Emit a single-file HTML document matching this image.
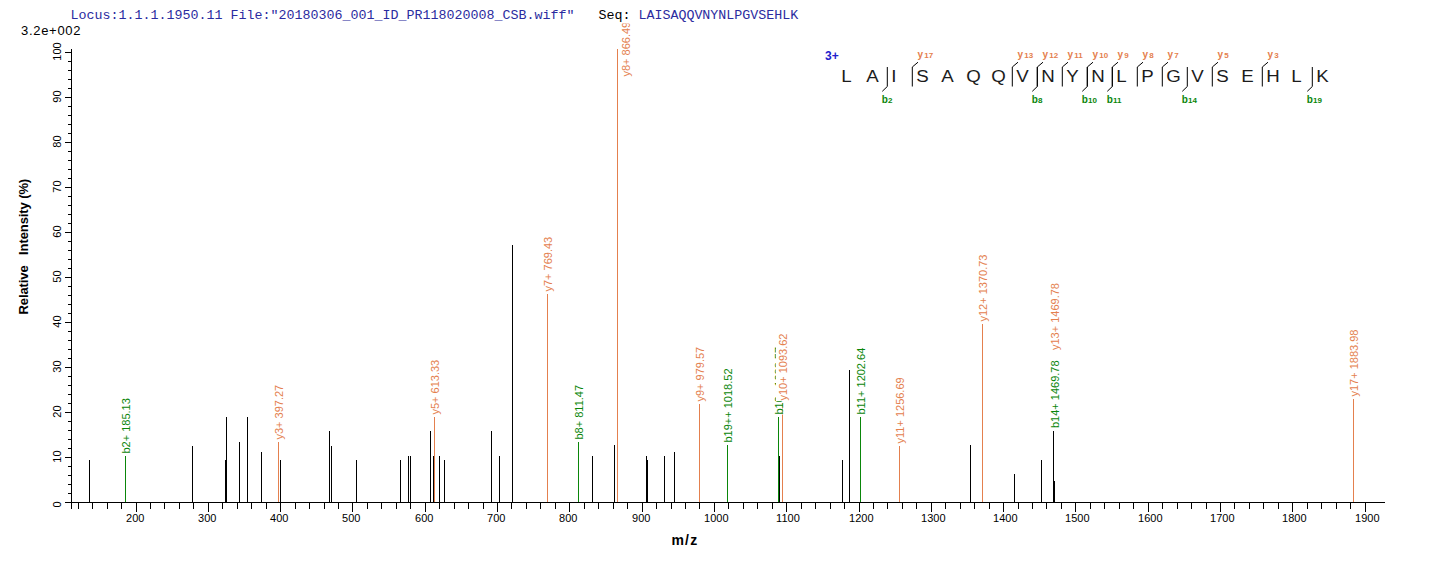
<!DOCTYPE html>
<html><head><meta charset="utf-8">
<style>
html,body{margin:0;padding:0;background:#fff;}
body{width:1436px;height:562px;overflow:hidden;}
svg{display:block;}
</style></head>
<body>
<svg width="1436" height="562" viewBox="0 0 1436 562">
<rect x="0" y="0" width="1436" height="562" fill="#fff"/>
<g stroke="#000" stroke-width="1" shape-rendering="crispEdges">
<line x1="71.5" y1="49" x2="71.5" y2="509"/>
<line x1="65" y1="502.5" x2="1385" y2="502.5"/>
<line x1="65" y1="502.5" x2="71" y2="502.5"/>
<line x1="68" y1="493.5" x2="71" y2="493.5"/>
<line x1="68" y1="484.5" x2="71" y2="484.5"/>
<line x1="68" y1="475.5" x2="71" y2="475.5"/>
<line x1="68" y1="466.5" x2="71" y2="466.5"/>
<line x1="65" y1="457.5" x2="71" y2="457.5"/>
<line x1="68" y1="448.5" x2="71" y2="448.5"/>
<line x1="68" y1="439.5" x2="71" y2="439.5"/>
<line x1="68" y1="430.5" x2="71" y2="430.5"/>
<line x1="68" y1="421.5" x2="71" y2="421.5"/>
<line x1="65" y1="412.5" x2="71" y2="412.5"/>
<line x1="68" y1="403.5" x2="71" y2="403.5"/>
<line x1="68" y1="394.5" x2="71" y2="394.5"/>
<line x1="68" y1="385.5" x2="71" y2="385.5"/>
<line x1="68" y1="376.5" x2="71" y2="376.5"/>
<line x1="65" y1="367.5" x2="71" y2="367.5"/>
<line x1="68" y1="358.5" x2="71" y2="358.5"/>
<line x1="68" y1="349.5" x2="71" y2="349.5"/>
<line x1="68" y1="340.5" x2="71" y2="340.5"/>
<line x1="68" y1="331.5" x2="71" y2="331.5"/>
<line x1="65" y1="322.5" x2="71" y2="322.5"/>
<line x1="68" y1="313.5" x2="71" y2="313.5"/>
<line x1="68" y1="304.5" x2="71" y2="304.5"/>
<line x1="68" y1="295.5" x2="71" y2="295.5"/>
<line x1="68" y1="286.5" x2="71" y2="286.5"/>
<line x1="65" y1="277.5" x2="71" y2="277.5"/>
<line x1="68" y1="268.5" x2="71" y2="268.5"/>
<line x1="68" y1="259.5" x2="71" y2="259.5"/>
<line x1="68" y1="250.5" x2="71" y2="250.5"/>
<line x1="68" y1="241.5" x2="71" y2="241.5"/>
<line x1="65" y1="232.5" x2="71" y2="232.5"/>
<line x1="68" y1="223.5" x2="71" y2="223.5"/>
<line x1="68" y1="214.5" x2="71" y2="214.5"/>
<line x1="68" y1="205.5" x2="71" y2="205.5"/>
<line x1="68" y1="196.5" x2="71" y2="196.5"/>
<line x1="65" y1="187.5" x2="71" y2="187.5"/>
<line x1="68" y1="178.5" x2="71" y2="178.5"/>
<line x1="68" y1="169.5" x2="71" y2="169.5"/>
<line x1="68" y1="160.5" x2="71" y2="160.5"/>
<line x1="68" y1="151.5" x2="71" y2="151.5"/>
<line x1="65" y1="142.5" x2="71" y2="142.5"/>
<line x1="68" y1="133.5" x2="71" y2="133.5"/>
<line x1="68" y1="124.5" x2="71" y2="124.5"/>
<line x1="68" y1="115.5" x2="71" y2="115.5"/>
<line x1="68" y1="106.5" x2="71" y2="106.5"/>
<line x1="65" y1="97.5" x2="71" y2="97.5"/>
<line x1="68" y1="88.5" x2="71" y2="88.5"/>
<line x1="68" y1="79.5" x2="71" y2="79.5"/>
<line x1="68" y1="70.5" x2="71" y2="70.5"/>
<line x1="68" y1="61.5" x2="71" y2="61.5"/>
<line x1="65" y1="52.5" x2="71" y2="52.5"/>
<line x1="78.5" y1="503" x2="78.5" y2="509"/>
<line x1="92.5" y1="503" x2="92.5" y2="509"/>
<line x1="107.5" y1="503" x2="107.5" y2="509"/>
<line x1="121.5" y1="503" x2="121.5" y2="509"/>
<line x1="136.5" y1="503" x2="136.5" y2="512"/>
<line x1="150.5" y1="503" x2="150.5" y2="509"/>
<line x1="164.5" y1="503" x2="164.5" y2="509"/>
<line x1="179.5" y1="503" x2="179.5" y2="509"/>
<line x1="193.5" y1="503" x2="193.5" y2="509"/>
<line x1="208.5" y1="503" x2="208.5" y2="512"/>
<line x1="222.5" y1="503" x2="222.5" y2="509"/>
<line x1="237.5" y1="503" x2="237.5" y2="509"/>
<line x1="251.5" y1="503" x2="251.5" y2="509"/>
<line x1="266.5" y1="503" x2="266.5" y2="509"/>
<line x1="280.5" y1="503" x2="280.5" y2="512"/>
<line x1="295.5" y1="503" x2="295.5" y2="509"/>
<line x1="309.5" y1="503" x2="309.5" y2="509"/>
<line x1="324.5" y1="503" x2="324.5" y2="509"/>
<line x1="338.5" y1="503" x2="338.5" y2="509"/>
<line x1="352.5" y1="503" x2="352.5" y2="512"/>
<line x1="367.5" y1="503" x2="367.5" y2="509"/>
<line x1="381.5" y1="503" x2="381.5" y2="509"/>
<line x1="396.5" y1="503" x2="396.5" y2="509"/>
<line x1="410.5" y1="503" x2="410.5" y2="509"/>
<line x1="425.5" y1="503" x2="425.5" y2="512"/>
<line x1="439.5" y1="503" x2="439.5" y2="509"/>
<line x1="454.5" y1="503" x2="454.5" y2="509"/>
<line x1="468.5" y1="503" x2="468.5" y2="509"/>
<line x1="483.5" y1="503" x2="483.5" y2="509"/>
<line x1="497.5" y1="503" x2="497.5" y2="512"/>
<line x1="511.5" y1="503" x2="511.5" y2="509"/>
<line x1="526.5" y1="503" x2="526.5" y2="509"/>
<line x1="540.5" y1="503" x2="540.5" y2="509"/>
<line x1="555.5" y1="503" x2="555.5" y2="509"/>
<line x1="569.5" y1="503" x2="569.5" y2="512"/>
<line x1="584.5" y1="503" x2="584.5" y2="509"/>
<line x1="598.5" y1="503" x2="598.5" y2="509"/>
<line x1="613.5" y1="503" x2="613.5" y2="509"/>
<line x1="627.5" y1="503" x2="627.5" y2="509"/>
<line x1="642.5" y1="503" x2="642.5" y2="512"/>
<line x1="656.5" y1="503" x2="656.5" y2="509"/>
<line x1="671.5" y1="503" x2="671.5" y2="509"/>
<line x1="685.5" y1="503" x2="685.5" y2="509"/>
<line x1="699.5" y1="503" x2="699.5" y2="509"/>
<line x1="714.5" y1="503" x2="714.5" y2="512"/>
<line x1="728.5" y1="503" x2="728.5" y2="509"/>
<line x1="743.5" y1="503" x2="743.5" y2="509"/>
<line x1="757.5" y1="503" x2="757.5" y2="509"/>
<line x1="772.5" y1="503" x2="772.5" y2="509"/>
<line x1="786.5" y1="503" x2="786.5" y2="512"/>
<line x1="801.5" y1="503" x2="801.5" y2="509"/>
<line x1="815.5" y1="503" x2="815.5" y2="509"/>
<line x1="830.5" y1="503" x2="830.5" y2="509"/>
<line x1="844.5" y1="503" x2="844.5" y2="509"/>
<line x1="859.5" y1="503" x2="859.5" y2="512"/>
<line x1="873.5" y1="503" x2="873.5" y2="509"/>
<line x1="887.5" y1="503" x2="887.5" y2="509"/>
<line x1="902.5" y1="503" x2="902.5" y2="509"/>
<line x1="916.5" y1="503" x2="916.5" y2="509"/>
<line x1="931.5" y1="503" x2="931.5" y2="512"/>
<line x1="945.5" y1="503" x2="945.5" y2="509"/>
<line x1="960.5" y1="503" x2="960.5" y2="509"/>
<line x1="974.5" y1="503" x2="974.5" y2="509"/>
<line x1="989.5" y1="503" x2="989.5" y2="509"/>
<line x1="1003.5" y1="503" x2="1003.5" y2="512"/>
<line x1="1018.5" y1="503" x2="1018.5" y2="509"/>
<line x1="1032.5" y1="503" x2="1032.5" y2="509"/>
<line x1="1046.5" y1="503" x2="1046.5" y2="509"/>
<line x1="1061.5" y1="503" x2="1061.5" y2="509"/>
<line x1="1075.5" y1="503" x2="1075.5" y2="512"/>
<line x1="1090.5" y1="503" x2="1090.5" y2="509"/>
<line x1="1104.5" y1="503" x2="1104.5" y2="509"/>
<line x1="1119.5" y1="503" x2="1119.5" y2="509"/>
<line x1="1133.5" y1="503" x2="1133.5" y2="509"/>
<line x1="1148.5" y1="503" x2="1148.5" y2="512"/>
<line x1="1162.5" y1="503" x2="1162.5" y2="509"/>
<line x1="1177.5" y1="503" x2="1177.5" y2="509"/>
<line x1="1191.5" y1="503" x2="1191.5" y2="509"/>
<line x1="1206.5" y1="503" x2="1206.5" y2="509"/>
<line x1="1220.5" y1="503" x2="1220.5" y2="512"/>
<line x1="1234.5" y1="503" x2="1234.5" y2="509"/>
<line x1="1249.5" y1="503" x2="1249.5" y2="509"/>
<line x1="1263.5" y1="503" x2="1263.5" y2="509"/>
<line x1="1278.5" y1="503" x2="1278.5" y2="509"/>
<line x1="1292.5" y1="503" x2="1292.5" y2="512"/>
<line x1="1307.5" y1="503" x2="1307.5" y2="509"/>
<line x1="1321.5" y1="503" x2="1321.5" y2="509"/>
<line x1="1336.5" y1="503" x2="1336.5" y2="509"/>
<line x1="1350.5" y1="503" x2="1350.5" y2="509"/>
<line x1="1365.5" y1="503" x2="1365.5" y2="512"/>
</g>
<g font-family="Liberation Sans, sans-serif" font-size="11" fill="#000" text-anchor="middle">
<text transform="translate(61,504.4) rotate(-90)">0</text>
<text transform="translate(61,456.5) rotate(-90)">10</text>
<text transform="translate(61,411.5) rotate(-90)">20</text>
<text transform="translate(61,366.5) rotate(-90)">30</text>
<text transform="translate(61,321.5) rotate(-90)">40</text>
<text transform="translate(61,276.5) rotate(-90)">50</text>
<text transform="translate(61,231.5) rotate(-90)">60</text>
<text transform="translate(61,186.5) rotate(-90)">70</text>
<text transform="translate(61,141.5) rotate(-90)">80</text>
<text transform="translate(61,96.5) rotate(-90)">90</text>
<text transform="translate(61,51.5) rotate(-90)">100</text>
</g>
<g font-family="Liberation Sans, sans-serif" font-size="11" fill="#000">
<text x="126.1" y="521.5">200</text>
<text x="198.1" y="521.5">300</text>
<text x="270.1" y="521.5">400</text>
<text x="342.1" y="521.5">500</text>
<text x="415.1" y="521.5">600</text>
<text x="487.1" y="521.5">700</text>
<text x="559.1" y="521.5">800</text>
<text x="632.1" y="521.5">900</text>
<text x="704.1" y="521.5">1000</text>
<text x="776.1" y="521.5">1100</text>
<text x="849.1" y="521.5">1200</text>
<text x="921.1" y="521.5">1300</text>
<text x="993.1" y="521.5">1400</text>
<text x="1065.1" y="521.5">1500</text>
<text x="1138.1" y="521.5">1600</text>
<text x="1210.1" y="521.5">1700</text>
<text x="1282.1" y="521.5">1800</text>
<text x="1355.1" y="521.5">1900</text>
</g>
<text x="685" y="545" font-family="Liberation Sans, sans-serif" font-size="14" font-weight="bold" text-anchor="middle" letter-spacing="1.3">m/z</text>
<text transform="translate(28,314.5) rotate(-90)" font-family="Liberation Sans, sans-serif" font-size="13" font-weight="bold" letter-spacing="-0.1" xml:space="preserve">Relative   Intensity (%)</text>
<g shape-rendering="crispEdges" stroke-width="1">
<line x1="125.5" y1="456" x2="125.5" y2="502" stroke="#0A860A"/>
<line x1="278.5" y1="442" x2="278.5" y2="502" stroke="#E4804E"/>
<line x1="434.5" y1="417" x2="434.5" y2="502" stroke="#E4804E"/>
<line x1="547.5" y1="294" x2="547.5" y2="502" stroke="#E4804E"/>
<line x1="578.5" y1="442" x2="578.5" y2="502" stroke="#0A860A"/>
<line x1="617.5" y1="49" x2="617.5" y2="502" stroke="#E4804E"/>
<line x1="699.5" y1="404" x2="699.5" y2="502" stroke="#E4804E"/>
<line x1="727.5" y1="445" x2="727.5" y2="502" stroke="#0A860A"/>
<line x1="778.5" y1="417" x2="778.5" y2="502" stroke="#0A860A"/>
<line x1="782.5" y1="403" x2="782.5" y2="502" stroke="#E4804E"/>
<line x1="860.5" y1="417" x2="860.5" y2="502" stroke="#0A860A"/>
<line x1="899.5" y1="446" x2="899.5" y2="502" stroke="#E4804E"/>
<line x1="982.5" y1="324" x2="982.5" y2="502" stroke="#E4804E"/>
<line x1="1353.5" y1="399" x2="1353.5" y2="502" stroke="#E4804E"/>
<line x1="89.5" y1="460" x2="89.5" y2="502" stroke="#000"/>
<line x1="192.5" y1="446" x2="192.5" y2="502" stroke="#000"/>
<line x1="225.5" y1="460" x2="225.5" y2="502" stroke="#000"/>
<line x1="226.5" y1="417" x2="226.5" y2="502" stroke="#000"/>
<line x1="239.5" y1="442" x2="239.5" y2="502" stroke="#000"/>
<line x1="247.5" y1="417" x2="247.5" y2="502" stroke="#000"/>
<line x1="261.5" y1="452" x2="261.5" y2="502" stroke="#000"/>
<line x1="280.5" y1="460" x2="280.5" y2="502" stroke="#000"/>
<line x1="329.5" y1="431" x2="329.5" y2="502" stroke="#000"/>
<line x1="331.5" y1="446" x2="331.5" y2="502" stroke="#000"/>
<line x1="356.5" y1="460" x2="356.5" y2="502" stroke="#000"/>
<line x1="400.5" y1="460" x2="400.5" y2="502" stroke="#000"/>
<line x1="408.5" y1="456" x2="408.5" y2="502" stroke="#000"/>
<line x1="410.5" y1="456" x2="410.5" y2="502" stroke="#000"/>
<line x1="430.5" y1="431" x2="430.5" y2="502" stroke="#000"/>
<line x1="433.5" y1="456" x2="433.5" y2="502" stroke="#000"/>
<line x1="439.5" y1="456" x2="439.5" y2="502" stroke="#000"/>
<line x1="444.5" y1="460" x2="444.5" y2="502" stroke="#000"/>
<line x1="491.5" y1="431" x2="491.5" y2="502" stroke="#000"/>
<line x1="499.5" y1="456" x2="499.5" y2="502" stroke="#000"/>
<line x1="512.5" y1="245" x2="512.5" y2="502" stroke="#000"/>
<line x1="592.5" y1="456" x2="592.5" y2="502" stroke="#000"/>
<line x1="614.5" y1="445" x2="614.5" y2="502" stroke="#000"/>
<line x1="646.5" y1="456" x2="646.5" y2="502" stroke="#000"/>
<line x1="647.5" y1="460" x2="647.5" y2="502" stroke="#000"/>
<line x1="664.5" y1="456" x2="664.5" y2="502" stroke="#000"/>
<line x1="674.5" y1="452" x2="674.5" y2="502" stroke="#000"/>
<line x1="779.5" y1="456" x2="779.5" y2="502" stroke="#000"/>
<line x1="842.5" y1="460" x2="842.5" y2="502" stroke="#000"/>
<line x1="849.5" y1="370" x2="849.5" y2="502" stroke="#000"/>
<line x1="970.5" y1="445" x2="970.5" y2="502" stroke="#000"/>
<line x1="1014.5" y1="474" x2="1014.5" y2="502" stroke="#000"/>
<line x1="1041.5" y1="460" x2="1041.5" y2="502" stroke="#000"/>
<line x1="1053.5" y1="431" x2="1053.5" y2="502" stroke="#000"/>
<line x1="1054.5" y1="481" x2="1054.5" y2="502" stroke="#000"/>
</g>
<g font-family="Liberation Sans, sans-serif" font-size="11">
<rect x="119.0" y="397.6" width="10.5" height="56.4" fill="#fff"/>
<text transform="translate(129.5,453.5) rotate(-90)" fill="#0A860A">b2+ 185.13</text>
<rect x="272.0" y="384.3" width="10.5" height="55.7" fill="#fff"/>
<text transform="translate(282.5,439.5) rotate(-90)" fill="#E4804E">y3+ 397.27</text>
<rect x="428.0" y="359.3" width="10.5" height="55.7" fill="#fff"/>
<text transform="translate(438.5,414.5) rotate(-90)" fill="#E4804E">y5+ 613.33</text>
<rect x="541.0" y="236.3" width="10.5" height="55.7" fill="#fff"/>
<text transform="translate(551.5,291.5) rotate(-90)" fill="#E4804E">y7+ 769.43</text>
<rect x="572.0" y="383.6" width="10.5" height="56.4" fill="#fff"/>
<text transform="translate(582.5,439.5) rotate(-90)" fill="#0A860A">b8+ 811.47</text>
<rect x="693.0" y="346.3" width="10.5" height="55.7" fill="#fff"/>
<text transform="translate(703.5,401.5) rotate(-90)" fill="#E4804E">y9+ 979.57</text>
<rect x="721.0" y="368.0" width="10.5" height="75.0" fill="#fff"/>
<text transform="translate(731.5,442.5) rotate(-90)" fill="#0A860A">b19++ 1018.52</text>
<rect x="772.0" y="346.4" width="10.5" height="68.6" fill="#fff"/>
<text transform="translate(782.5,414.5) rotate(-90)" fill="#0A860A">b10+ 1088.57</text>
<rect x="776.0" y="333.0" width="10.5" height="68.0" fill="#fff"/>
<text transform="translate(786.5,400.5) rotate(-90)" fill="#E4804E">y10+ 1093.62</text>
<rect x="854.0" y="346.4" width="10.5" height="68.6" fill="#fff"/>
<text transform="translate(864.5,414.5) rotate(-90)" fill="#0A860A">b11+ 1202.64</text>
<rect x="893.0" y="376.0" width="10.5" height="68.0" fill="#fff"/>
<text transform="translate(903.5,443.5) rotate(-90)" fill="#E4804E">y11+ 1256.69</text>
<rect x="976.0" y="254.0" width="10.5" height="68.0" fill="#fff"/>
<text transform="translate(986.5,321.5) rotate(-90)" fill="#E4804E">y12+ 1370.73</text>
<rect x="1347.0" y="329.0" width="10.5" height="68.0" fill="#fff"/>
<text transform="translate(1357.5,396.5) rotate(-90)" fill="#E4804E">y17+ 1883.98</text>
<rect x="1048.0" y="359.9" width="10.5" height="68.6" fill="#fff"/>
<text transform="translate(1058.5,428.0) rotate(-90)" fill="#0A860A">b14+ 1469.78</text>
<rect x="1048.0" y="282.5" width="10.5" height="68.0" fill="#fff"/>
<text transform="translate(1058.5,350.0) rotate(-90)" fill="#E4804E">y13+ 1469.78</text>
<rect x="619.0" y="21.3" width="10.5" height="55.7" fill="#fff"/>
<text transform="translate(629.5,76.5) rotate(-90)" fill="#E4804E">y8+ 866.49</text>
</g>
<rect x="0" y="0" width="1436" height="23.5" fill="#fff"/>
<text x="70.5" y="19" font-family="Liberation Mono, monospace" font-size="13.333" fill="#2B2BA0" xml:space="preserve">Locus:1.1.1.1950.11 File:"20180306_001_ID_PR118020008_CSB.wiff"   <tspan fill="#000">Seq:</tspan> LAISAQQVNYNLPGVSEHLK</text>
<text x="21" y="35" font-family="Liberation Sans, sans-serif" font-size="13" letter-spacing="0.7" fill="#000">3.2e+002</text>
<text x="825" y="59.5" font-family="Liberation Sans, sans-serif" font-size="12" font-weight="bold" fill="#2020CC">3+</text>
<g font-family="Liberation Sans, sans-serif" font-size="17" fill="#1c1c1c">
<text transform="translate(841.3,81.5) scale(1.1,1)">L</text>
<text transform="translate(866.3,81.5) scale(1.1,1)">A</text>
<text transform="translate(891.3,81.5) scale(1.1,1)">I</text>
<text transform="translate(916.3,81.5) scale(1.1,1)">S</text>
<text transform="translate(941.3,81.5) scale(1.1,1)">A</text>
<text transform="translate(966.3,81.5) scale(1.1,1)">Q</text>
<text transform="translate(991.3,81.5) scale(1.1,1)">Q</text>
<text transform="translate(1016.3,81.5) scale(1.1,1)">V</text>
<text transform="translate(1041.3,81.5) scale(1.1,1)">N</text>
<text transform="translate(1066.3,81.5) scale(1.1,1)">Y</text>
<text transform="translate(1091.3,81.5) scale(1.1,1)">N</text>
<text transform="translate(1116.3,81.5) scale(1.1,1)">L</text>
<text transform="translate(1141.3,81.5) scale(1.1,1)">P</text>
<text transform="translate(1166.3,81.5) scale(1.1,1)">G</text>
<text transform="translate(1191.3,81.5) scale(1.1,1)">V</text>
<text transform="translate(1216.3,81.5) scale(1.1,1)">S</text>
<text transform="translate(1241.3,81.5) scale(1.1,1)">E</text>
<text transform="translate(1266.3,81.5) scale(1.1,1)">H</text>
<text transform="translate(1291.3,81.5) scale(1.1,1)">L</text>
<text transform="translate(1316.3,81.5) scale(1.1,1)">K</text>
</g>
<g stroke="#000" stroke-width="1" fill="none">
<polyline points="887.3,67 887.3,86.5 882.3,91.3"/>
<polyline points="1037.3,67 1037.3,86.5 1032.3,91.3"/>
<polyline points="1087.3,67 1087.3,86.5 1082.3,91.3"/>
<polyline points="1112.3,67 1112.3,86.5 1107.3,91.3"/>
<polyline points="1187.3,67 1187.3,86.5 1182.3,91.3"/>
<polyline points="1312.3,67 1312.3,86.5 1307.3,91.3"/>
<polyline points="912.3,86.5 912.3,67 918.0,62.2"/>
<polyline points="1012.3,86.5 1012.3,67 1018.0,62.2"/>
<polyline points="1037.3,86.5 1037.3,67 1043.0,62.2"/>
<polyline points="1062.3,86.5 1062.3,67 1068.0,62.2"/>
<polyline points="1087.3,86.5 1087.3,67 1093.0,62.2"/>
<polyline points="1112.3,86.5 1112.3,67 1118.0,62.2"/>
<polyline points="1137.3,86.5 1137.3,67 1143.0,62.2"/>
<polyline points="1162.3,86.5 1162.3,67 1168.0,62.2"/>
<polyline points="1212.3,86.5 1212.3,67 1218.0,62.2"/>
<polyline points="1262.3,86.5 1262.3,67 1268.0,62.2"/>
</g>
<g font-family="Liberation Sans, sans-serif" font-weight="bold">
<text x="881.7" y="102.5" font-size="10" fill="#0A860A">b<tspan font-size="8" dx="0.3">2</tspan></text>
<text x="1031.7" y="102.5" font-size="10" fill="#0A860A">b<tspan font-size="8" dx="0.3">8</tspan></text>
<text x="1081.7" y="102.5" font-size="10" fill="#0A860A">b<tspan font-size="8" dx="0.3">10</tspan></text>
<text x="1106.7" y="102.5" font-size="10" fill="#0A860A">b<tspan font-size="8" dx="0.3">11</tspan></text>
<text x="1181.7" y="102.5" font-size="10" fill="#0A860A">b<tspan font-size="8" dx="0.3">14</tspan></text>
<text x="1306.7" y="102.5" font-size="10" fill="#0A860A">b<tspan font-size="8" dx="0.3">19</tspan></text>
<text x="917.5" y="58" font-size="10" fill="#E4804E">y<tspan font-size="8" dx="1.2" dy="-0.5">17</tspan></text>
<text x="1017.5" y="58" font-size="10" fill="#E4804E">y<tspan font-size="8" dx="1.2" dy="-0.5">13</tspan></text>
<text x="1042.5" y="58" font-size="10" fill="#E4804E">y<tspan font-size="8" dx="1.2" dy="-0.5">12</tspan></text>
<text x="1067.5" y="58" font-size="10" fill="#E4804E">y<tspan font-size="8" dx="1.2" dy="-0.5">11</tspan></text>
<text x="1092.5" y="58" font-size="10" fill="#E4804E">y<tspan font-size="8" dx="1.2" dy="-0.5">10</tspan></text>
<text x="1117.5" y="58" font-size="10" fill="#E4804E">y<tspan font-size="8" dx="1.2" dy="-0.5">9</tspan></text>
<text x="1142.5" y="58" font-size="10" fill="#E4804E">y<tspan font-size="8" dx="1.2" dy="-0.5">8</tspan></text>
<text x="1167.5" y="58" font-size="10" fill="#E4804E">y<tspan font-size="8" dx="1.2" dy="-0.5">7</tspan></text>
<text x="1217.5" y="58" font-size="10" fill="#E4804E">y<tspan font-size="8" dx="1.2" dy="-0.5">5</tspan></text>
<text x="1267.5" y="58" font-size="10" fill="#E4804E">y<tspan font-size="8" dx="1.2" dy="-0.5">3</tspan></text>
</g>
</svg>
</body></html>
